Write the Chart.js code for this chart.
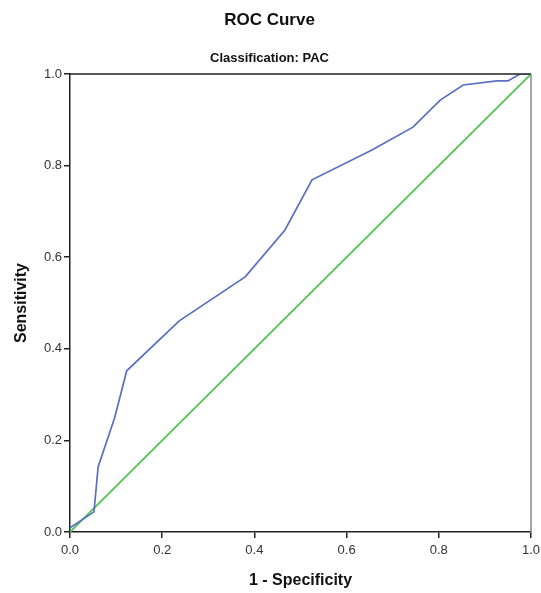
<!DOCTYPE html>
<html>
<head>
<meta charset="utf-8">
<script src="https://cdn.jsdelivr.net/npm/chart.js@4.4.0/dist/chart.umd.min.js"></script>
<style>
  body { margin: 0; background: #fff; }
</style>
</head>
<body>
<canvas id="rocChart" width="541" height="593"></canvas>
<script>
// ROC curve points (1 - specificity, sensitivity)
const fpr = [0, 0.052, 0.061, 0.097, 0.123, 0.237, 0.380, 0.466, 0.525, 0.655, 0.744, 0.803, 0.853, 0.926, 0.950, 0.976, 1.0];
const tpr = [0.009, 0.044, 0.142, 0.25, 0.352, 0.461, 0.557, 0.659, 0.769, 0.834, 0.884, 0.943, 0.976, 0.985, 0.985, 1.0, 1.0];
// reference line
const refX = [0, 1];
const refY = [0, 1];
const tickValues = [0, 0.2, 0.4, 0.6, 0.8, 1.0];

const font = "'Liberation Sans', Arial, sans-serif";

// draws the top and right edges of the plot frame
const frame = {
  id: "frame",
  afterDraw(chart) {
    const { ctx, chartArea } = chart;
    ctx.save();
    ctx.lineWidth = 1.5;
    ctx.strokeStyle = "#222";
    ctx.beginPath();
    ctx.moveTo(chartArea.left, chartArea.top);
    ctx.lineTo(chartArea.right, chartArea.top);
    ctx.stroke();
    ctx.strokeStyle = "#888";
    ctx.beginPath();
    ctx.moveTo(chartArea.right, chartArea.top);
    ctx.lineTo(chartArea.right, chartArea.bottom);
    ctx.stroke();
    ctx.restore();
  }
};

const ctx = document.getElementById("rocChart").getContext("2d");

const rocChart = new Chart(ctx, {
  type: "scatter",
  data: {
    datasets: [
      {
        label: "ROC",
        data: fpr.map((x, i) => ({ x: x, y: tpr[i] })),
        showLine: true,
        borderColor: "#5a6ec3",
        borderWidth: 1.7,
        pointRadius: 0,
        tension: 0,
      },
      {
        label: "Reference",
        data: refX.map((x, i) => ({ x: x, y: refY[i] })),
        showLine: true,
        borderColor: "#4cc34c",
        borderWidth: 1.7,
        pointRadius: 0,
      },
    ],
  },
  options: {
    responsive: false,
    animation: false,
    layout: { padding: { left: 8, right: 10, top: 0, bottom: 0 } },
    plugins: {
      legend: { display: false },
      tooltip: { enabled: false },
      title: {
        display: true,
        text: "ROC Curve",
        color: "#111",
        font: { family: font, size: 17, weight: "bold" },
        padding: { top: 10, bottom: 20 },
      },
      subtitle: {
        display: true,
        text: "Classification: PAC",
        color: "#111",
        font: { family: font, size: 13, weight: "bold" },
        padding: { top: 0, bottom: 8 },
      },
    },
    scales: {
      x: {
        type: "linear",
        min: 0,
        max: 1,
        afterBuildTicks(scale) {
          scale.ticks = tickValues.map(v => ({ value: v }));
        },
        afterFit(scale) {
          scale.height = 61;
          scale.paddingRight = 0;
          scale.paddingLeft = 0;
        },
        grid: { drawOnChartArea: false, tickLength: 6, color: "#222", lineWidth: 1.5 },
        border: { color: "#222", width: 1.5 },
        ticks: {
          color: "#333",
          font: { family: font, size: 13 },
          padding: 5,
          callback: v => v.toFixed(1),
        },
        title: {
          display: true,
          text: "1 - Specificity",
          color: "#111",
          font: { family: font, size: 16, weight: "bold" },
          padding: { top: 18, bottom: 3 },
        },
      },
      y: {
        type: "linear",
        min: 0,
        max: 1,
        afterBuildTicks(scale) {
          scale.ticks = tickValues.map(v => ({ value: v }));
        },
        afterFit(scale) {
          scale.width = 62;
        },
        grid: { drawOnChartArea: false, tickLength: 6, color: "#222", lineWidth: 1.5 },
        border: { color: "#222", width: 1.5 },
        ticks: {
          color: "#333",
          font: { family: font, size: 13 },
          padding: 2,
          callback: v => v.toFixed(1),
        },
        title: {
          display: true,
          text: "Sensitivity",
          color: "#111",
          font: { family: font, size: 16, weight: "bold" },
          padding: { bottom: 4 },
        },
      },
    },
  },
  plugins: [frame],
});
</script>
</body>
</html>
